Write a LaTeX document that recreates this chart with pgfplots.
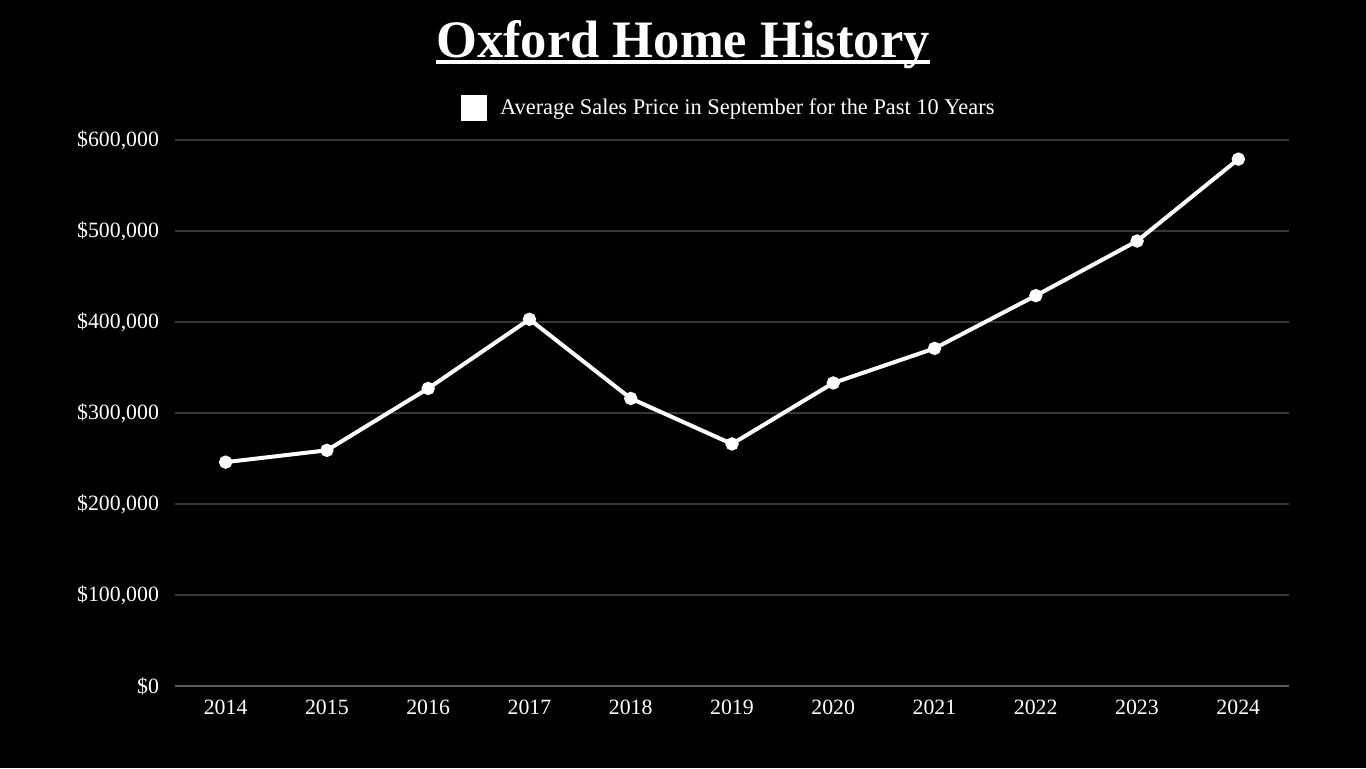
\documentclass[border=0pt]{standalone}
\usepackage{pgfplots}
\pgfplotsset{compat=1.18}
\usepackage{fontspec}
\setmainfont{Liberation Serif}

\pgfplotstableread{
year price
2014 246000
2015 259000
2016 327000
2017 403000
2018 316000
2019 266000
2020 333000
2021 371000
2022 429000
2023 489000
2024 579000
}\prices

\definecolor{gridgray}{HTML}{363636}
\definecolor{axisgray}{HTML}{5A5A5A}

\begin{document}
\begin{tikzpicture}
  % 1 px of the reference = 0.5pt
  \fill[black] (0,0) rectangle (683pt,384pt);

  \node[anchor=base, text=white, font=\fontsize{26.3}{30}\selectfont\bfseries, inner sep=0pt]
    (title) at (341.5pt,355.5pt) {Oxford Home History};
  \draw[white, line width=2pt] ([yshift=-2.6pt]title.base west) -- ([yshift=-2.6pt]title.base east);

  \begin{axis}[
    at={(87.5pt,41pt)}, anchor=origin,
    scale only axis,
    width=557pt, height=273pt,
    xmin=2013.5, xmax=2024.5,
    ymin=0, ymax=600000,
    axis line style={draw=none},
    clip=false,
    xtick={2014,...,2024},
    xticklabels={2014,2015,2016,2017,2018,2019,2020,2021,2022,2023,2024},
    ytick={0,100000,...,600000},
    scaled y ticks=false,
    yticklabel={\$\pgfmathprintnumber[fixed,1000 sep={,}]{\tick}},
    /pgf/number format/assume math mode=true,
    ticklabel style={text=white, font=\fontsize{10.9}{12}\selectfont},
    tick style={draw=none},
    xticklabel style={yshift=-3.5pt},
    yticklabel style={xshift=-4.5pt},
    ymajorgrids,
    grid style={gridgray, line width=0.8pt},
    legend style={at={(0.498,1.0586)}, anchor=center, draw=none, fill=black,
      text=white, font=\fontsize{11.2}{12}\selectfont, inner sep=0pt,
      /tikz/every odd column/.append style={column sep=4.5pt}},
    legend cell align=left,
    legend image code/.code={\fill[white, draw=none] (0pt,-6.5pt) rectangle (13pt,6.5pt);},
  ]
    \draw[axisgray, line width=0.8pt] (axis cs:2013.5,0) -- (axis cs:2024.5,0);
    \addplot[white, line width=2pt, mark=*, mark size=2.3pt,
      mark options={fill=white, draw=white}] table[x=year, y=price] {\prices};
    \legend{Average Sales Price in September for the Past 10 Years}
  \end{axis}
\end{tikzpicture}
\end{document}
